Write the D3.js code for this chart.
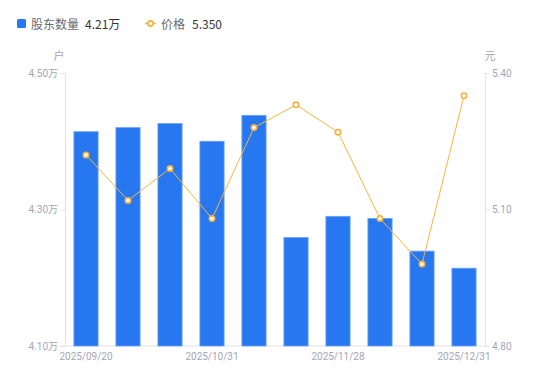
<!DOCTYPE html>
<html><head><meta charset="utf-8">
<script src="https://cdn.jsdelivr.net/npm/d3@7/dist/d3.min.js"></script>
<style>body{margin:0;background:#fff;font-family:"Noto Sans CJK SC","Noto Sans",sans-serif;}</style>
</head><body><svg id="c" width="550" height="381"></svg>
<script>
const categories = ["2025/09/20","2025/09/30","2025/10/20","2025/10/31","2025/11/10","2025/11/20","2025/11/28","2025/12/10","2025/12/19","2025/12/31"];
const holders = [4.414,4.420,4.426,4.400,4.438,4.259,4.290,4.287,4.239,4.214];
const prices = [5.22,5.12,5.19,5.08,5.28,5.33,5.27,5.08,4.98,5.35];
const leftTicks = [4.10,4.30,4.50];
const rightTicks = [4.80,5.10,5.40];
const xLabelIdx = [0,3,6,9];

const svg = d3.select("#c");
const L = 65, R = 485, T = 73, B = 346;
const x = d3.scaleBand().domain(categories).range([L,R]).paddingInner(0.4).paddingOuter(0.2);
const yL = d3.scaleLinear().domain([4.10,4.50]).range([B,T]);
const yR = d3.scaleLinear().domain([4.80,5.40]).range([B,T]);
const gray = "#a3a6b4", axisCol = "#e3e4e8";

// axes
const axL = svg.append("g").attr("transform",`translate(${L},0)`)
  .call(d3.axisLeft(yL).tickValues(leftTicks).tickSize(4).tickPadding(3).tickFormat(d=>d.toFixed(2)+"万"));
const axR = svg.append("g").attr("transform",`translate(${R},0)`)
  .call(d3.axisRight(yR).tickValues(rightTicks).tickSize(4).tickPadding(3).tickFormat(d=>d.toFixed(2)));
const axB = svg.append("g").attr("transform",`translate(0,${B})`)
  .call(d3.axisBottom(x).tickValues(xLabelIdx.map(i=>categories[i])).tickSize(0).tickPadding(7));
[axL,axR,axB].forEach(g=>{
  g.selectAll("path.domain").attr("stroke",axisCol);
  g.selectAll("line").attr("stroke",axisCol);
  g.selectAll("text").attr("fill",gray).style("font-size","10px").style("font-family","Roboto,'Noto Sans CJK SC',sans-serif");
});
axB.select("path.domain").attr("d",`M${L-5},0H${R}`);

// units
svg.append("text").attr("x",59).attr("y",60).attr("text-anchor","middle").attr("fill",gray).style("font-size","11px").text("户");
svg.append("text").attr("x",490).attr("y",60).attr("text-anchor","middle").attr("fill",gray).style("font-size","11px").text("元");

// bars
svg.append("g").selectAll("rect").data(holders).join("rect")
  .attr("x",(d,i)=>x(categories[i])+0.5).attr("width",x.bandwidth()-1)
  .attr("y",d=>yL(d)).attr("height",d=>B-yL(d))
  .attr("fill","#2777f1").attr("stroke","#6fa3f5").attr("stroke-width",0.8);

// line
const cx = i => x(categories[i]) + x.bandwidth()/2;
svg.append("path").datum(prices)
  .attr("d",d3.line().x((d,i)=>cx(i)).y(d=>yR(d)))
  .attr("fill","none").attr("stroke","#f7b73c").attr("stroke-width",1);
svg.append("g").selectAll("circle").data(prices).join("circle")
  .attr("cx",(d,i)=>cx(i)).attr("cy",d=>yR(d)).attr("r",2.7)
  .attr("fill","#fff").attr("stroke","#f7b03a").attr("stroke-width",1.6);

// legend
const lg = svg.append("g").style("font-size","12px");
lg.append("rect").attr("x",17).attr("y",19).attr("width",9).attr("height",9).attr("rx",1.5).attr("fill","#2777f1");
lg.append("text").attr("x",31).attr("y",28.5).attr("fill","#666a75").text("股东数量");
lg.append("text").attr("x",85).attr("y",28.5).attr("fill","#33353c").text(holders[holders.length-1].toFixed(2)+"万");
lg.append("line").attr("x1",145).attr("x2",156).attr("y1",23.5).attr("y2",23.5).attr("stroke","#f7b73c").attr("stroke-width",1.5);
lg.append("circle").attr("cx",150.5).attr("cy",23.5).attr("r",2.6).attr("fill","#fff").attr("stroke","#f7b03a").attr("stroke-width",1.6);
lg.append("text").attr("x",161).attr("y",28.5).attr("fill","#666a75").text("价格");
lg.append("text").attr("x",192).attr("y",28.5).attr("fill","#33353c").text(prices[prices.length-1].toFixed(3));
</script></body></html>
